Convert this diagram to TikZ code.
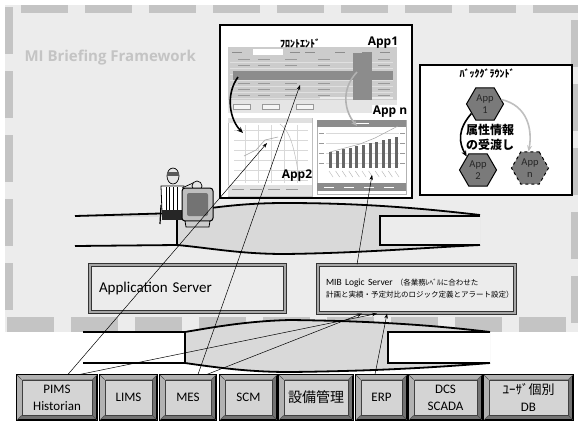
\documentclass[tikz,border=0pt]{standalone}
\usepackage{fontspec}
\setmainfont{Carlito}
\newfontfamily\headfont{Open Sans}
\newfontfamily\jpfont{Noto Sans CJK JP}
\usetikzlibrary{shapes.geometric,arrows.meta}

\definecolor{bggray}{HTML}{ECECEC}
\definecolor{dashgray}{HTML}{C4C4C4}
\definecolor{bandgray}{HTML}{D9D9D9}
\definecolor{hexgray}{HTML}{7A7A7A}
\definecolor{markgray}{HTML}{8C8C8C}

\tikzset{
  frameline/.style={dashgray, line width=8pt, dash pattern=on 47pt off 17pt},
  bandline/.style={black, line width=1.8pt},
  server/.style={draw=black!80, double=black!35, double distance=1.6pt, line width=1.1pt,
    fill=bggray, inner sep=0pt},
  keyrim/.style={draw=black, fill=black!55, line width=1.2pt, inner sep=0pt},
  keyface/.style={draw=black!75, fill=black!17, line width=0.8pt, inner sep=0pt, align=center,
    font=\fontsize{13}{17}\selectfont},
  label/.style={font=\headfont\bfseries\fontsize{12}{12}\selectfont},
  hex/.style={regular polygon, regular polygon sides=6, minimum size=37pt, inner sep=0pt,
    fill=hexgray, draw=black, line width=1pt, align=center, text=black!85,
    font=\fontsize{10.5}{12}\selectfont},
  feed/.style={-{Stealth[length=5pt,width=3.5pt]}, line width=0.5pt},
  flow/.style={-{Stealth[length=6pt,width=5pt]}, line width=1.6pt},
}

% bevelled source button: name, left, right, text
\newcommand\keybox[4]{%
  \node[keyrim, minimum width=#3-#2, minimum height=45pt] (#1) at ({(#2+#3)/2},397.5) {};
  \fill[black!30] (#1.north west) -- (#1.north east) -- ++(-5,5) -- ++({-(#3-#2-10)},0)
    -- ++(0,35) -- (#1.south west) -- cycle;
  \node[keyface, minimum width=#3-#2-10, minimum height=35pt] (#1face) at (#1) {#4};
  \draw[black!70, line width=0.5pt] (#1.north west) -- (#1face.north west)
    (#1.north east) -- (#1face.north east) (#1.south west) -- (#1face.south west)
    (#1.south east) -- (#1face.south east);
  \draw[line width=1.2pt] (#1.north west) rectangle (#1.south east);
}

\begin{document}
\begin{tikzpicture}[x=1pt,y=-1pt]
  \useasboundingbox (0,0) rectangle (578,421);

  % framework area
  \fill[bggray] (5,5) rectangle (578,332);
  \draw[frameline] (21,9) -- (578,9);
  \draw[frameline] (9,7) -- (9,316);
  \draw[frameline] (575,20) -- (575,323);
  \draw[frameline, line width=15pt] (7,324.5) -- (578,324.5);
  \node[anchor=west, text=dashgray, font=\headfont\bfseries\fontsize{15}{15}\selectfont]
    (title) at (21,58) {MI Briefing Framework};

  % upper band
  \fill[bandgray] (75,216) -- (177,213) .. controls (220,206) and (250,203) .. (285,203)
    .. controls (360,203) and (420,208) .. (480,215) -- (480,245)
    .. controls (420,248) and (360,253) .. (285,254)
    .. controls (240,254) and (210,248) .. (177,245) -- (75,246) -- cycle;
  \fill[bggray] (75,217) rectangle (177,245);
  \fill[bggray] (380,216) rectangle (480,245);
  \draw[bandline] (75,216) -- (177,213) .. controls (220,206) and (250,203) .. (285,203)
    .. controls (360,203) and (420,208) .. (480,215);
  \draw[bandline] (480,245) .. controls (420,248) and (360,253) .. (285,254)
    .. controls (240,254) and (210,248) .. (177,245) -- (75,246);
  \draw[bandline] (177,213) -- (177,245);
  \draw[bandline] (480,216) -- (380,216) -- (380,245) -- (480,245);

  % lower band
  \fill[bandgray] (83,332) -- (185,332) .. controls (220,326) and (250,321) .. (290,320)
    .. controls (380,321) and (440,326) .. (490,332) -- (490,363)
    .. controls (440,367) and (380,371) .. (290,372)
    .. controls (250,372) and (220,368) .. (185,363) -- (83,363) -- cycle;
  \fill[white] (83,333) rectangle (185,363);
  \fill[white] (388,333) rectangle (490,363);
  \draw[bandline] (83,332) -- (185,332) .. controls (220,326) and (250,321) .. (290,320)
    .. controls (380,321) and (440,326) .. (490,332);
  \draw[bandline] (490,363) .. controls (440,367) and (380,371) .. (290,372)
    .. controls (250,372) and (220,368) .. (185,363) -- (83,363);
  \draw[bandline] (185,332) -- (185,363);
  \draw[bandline] (490,332) -- (388,332) -- (388,363) -- (490,363);

  % user at the terminal
  \draw[line width=1.2pt] (161,205) -- (160,224);
  \filldraw[fill=white, line width=0.8pt] (161,186) -- (184,186) -- (184,212) -- (162,212) -- cycle;
  \foreach \x in {166,169,173,177} \draw[line width=1pt] (\x,187) -- (\x,210);
  \fill[black!85] (162,210) rectangle (183,220);
  \filldraw[fill=black!10, line width=0.7pt] (173,176) ellipse (6 and 8);
  \fill[black!65] (167,172) rectangle (179,176);
  \draw[fill=black!10, line width=0.7pt] (182,188) -- (193,183) -- (197,190);
  \filldraw[fill=black!10, line width=0.7pt] (197,186) circle (5);
  \filldraw[fill=black!25, rounded corners=3pt, line width=1pt] (182,188) rectangle (213,221);
  \fill[black!55, rounded corners=2pt] (187,193) rectangle (208,216);
  \filldraw[fill=black!20, line width=0.8pt] (185,221) -- (210,221) -- (209,227) -- (186,227) -- cycle;

  % front end
  \node[draw, fill=white, line width=2pt, minimum width=192pt, minimum height=173pt, inner sep=0pt]
    (front) at (316,111.5) {};
  % table view
  \fill[black!20] (228,47) rectangle (397,100);
  \fill[black!10] (228,100) rectangle (397,113);
  \fill[white] (253,49) rectangle (283,55);
  \foreach \x in {232,290,305,335,362,380} \draw[black!45, line width=0.6pt] (\x,52) -- ++(10,0);
  \foreach \y in {59,65,71,77,83,89,95} {
    \draw[black!12, line width=0.3pt] (230,\y+3) -- (393,\y+3);
    \foreach \x in {238,258,285,318,378} \draw[black!40, line width=0.5pt] (\x,\y) -- ++(12,0);
  }
  \fill[black!8] (320,97) rectangle (393,99);
  \foreach \x in {233,262,296} \filldraw[fill=black!4, draw=black!40, line width=0.3pt] (\x,104) rectangle ++(17,5);
  \fill[markgray] (233,71) rectangle (393,80);
  \fill[markgray] (353,53) rectangle (372,100);
  % trend view
  \filldraw[fill=white, draw=black!25, line width=0.4pt] (228,118) rectangle (312,196);
  \fill[black!12] (228,118) rectangle (312,123);
  \foreach \y in {130,140,150,160,170,180} \draw[black!15, line width=0.4pt] (234,\y) -- (308,\y);
  \foreach \x in {245,258,271,284,297} \draw[black!15, line width=0.4pt] (\x,125) -- (\x,183);
  \draw[black!35, line width=0.6pt] (244,156) -- (256,150) -- (265,140) -- (278,137);
  \draw[black!25, line width=0.5pt] (280,124) .. controls (288,130) and (292,140) .. (296,160) -- (300,182);
  \fill[black!12] (228,185) rectangle (312,196);
  \foreach \x in {232,250,268,286} \draw[black!40, line width=0.5pt] (\x,189) -- ++(12,0);
  % bar chart view
  \filldraw[fill=white, draw=black!30, line width=0.4pt] (317,120) rectangle (406,194);
  \fill[black!45] (317,120) rectangle (406,127);
  \draw[white, line width=0.8pt] (355,123.5) -- ++(14,0);
  \foreach \y in {133,143,153,163} {
    \draw[black!15, line width=0.4pt] (326,\y) -- (399,\y);
    \draw[black!40, line width=0.5pt] (319,\y) -- ++(5,0);
    \draw[black!40, line width=0.5pt] (400,\y) -- ++(5,0);
  }
  \foreach \i in {0,...,10} \fill[black!60] ({329+6.6*\i},168) rectangle ++(3,{-16-1.5*\i});
  \draw[black!35, line width=0.5pt] (330,152) -- (345,148) -- (360,144) -- (375,138) -- (398,126);
  \foreach \i in {0,...,10} \draw[black!30, line width=0.4pt] ({329+6.6*\i},171) -- ++(4,6);
  \fill[black!45] (317,183) rectangle (406,191);
  \foreach \x in {324,344,364,384} \draw[white, line width=0.6pt] (\x,187) -- ++(10,0);

  \node[font=\jpfont\bfseries\fontsize{10}{10}\selectfont] (fronttitle) at (300,44) {ﾌﾛﾝﾄｴﾝﾄﾞ};
  \node[label] (lapp1) at (383,43) {App1};
  \node[label, fill=white, inner sep=1pt] (lappn) at (390,112) {App n};
  \node[label] (lapp2) at (297,176) {App2};

  \coordinate (rowsel) at (238,77);
  \coordinate (trendtop) at (243,133);
  \coordinate (colsel) at (357,72);
  \coordinate (bartop) at (357,126);
  \draw[flow] (rowsel) .. controls (225,95) and (230,120) .. (trendtop);
  \draw[flow, black!30] (colsel) .. controls (340,90) and (345,112) .. (bartop);

  % background
  \node[draw, fill=white, line width=2pt, minimum width=152pt, minimum height=130pt, inner sep=0pt]
    (back) at (496,130) {};
  \node[font=\jpfont\bfseries\fontsize{10}{10}\selectfont] (backtitle) at (487,74) {ﾊﾞｯｸｸﾞﾗｳﾝﾄﾞ};
  \node[hex] (app1) at (485,104) {App\\1};
  \node[hex] (app2) at (478,170) {App\\2};
  \node[hex, dashed] (appn) at (530,168) {App\\n};
  \node[font=\jpfont\bfseries\fontsize{12}{15}\selectfont, align=center] (handover) at (490,137)
    {属性情報\\の受渡し};
  \draw[flow] (app1.215) .. controls +(-14,16) and +(-8,-14) .. (app2.130);
  \draw[flow, black!25] (app1.15) .. controls +(26,6) and +(4,-22) .. (appn.95);

  % servers
  \node[server, minimum width=195pt, minimum height=47pt, text width=177pt, align=left,
    font=\fontsize{15}{15}\selectfont] (appsrv) at (187.5,288.5) {Application Server};
  \node[server, minimum width=197pt, minimum height=48pt, text width=181pt, align=left]
    (mib) at (416.5,289)
    {{\fontsize{9.5}{11}\selectfont MIB Logic Server}\hspace{3pt}{\jpfont\fontsize{7.5}{11}\selectfont （各業務ﾚﾍﾞﾙに合わせた}\\
     {\jpfont\fontsize{7.5}{11}\selectfont 計画と実績・予定対比のロジック定義とアラート設定）}};

  % data sources
  \keybox{pims}{17}{97}{PIMS\\Historian}
  \keybox{lims}{100}{157}{LIMS}
  \keybox{mes}{160}{216}{MES}
  \keybox{scm}{220}{277}{SCM}
  \keybox{setsubi}{279}{353}{\jpfont\fontsize{14}{15}\selectfont 設備管理}
  \keybox{erp}{356}{407}{ERP}
  \keybox{dcs}{409}{482}{DCS\\SCADA}
  \keybox{userdb}{484}{573}{{\jpfont ﾕｰｻﾞ個別}\\DB}

  \coordinate (trendpt) at (267,143);
  \coordinate (tablept) at (300,85);
  \coordinate (barpt) at (372,175);
  \draw[feed] ([xshift=11pt]pims.north) -- (trendpt);
  \draw[feed] ([xshift=23pt]pims.north) -- ([xshift=-39.5pt]mib.south);
  \draw[feed] ([xshift=10pt]mes.north) -- (tablept);
  \draw[feed] ([xshift=19pt]mes.north) -- ([xshift=-54.5pt]mib.south);
  \draw[feed] ([xshift=-6.5pt]erp.north) -- ([xshift=-29.5pt]mib.south);
  \draw[feed] ([xshift=-59.5pt]mib.north) -- (barpt);
\end{tikzpicture}
\end{document}
